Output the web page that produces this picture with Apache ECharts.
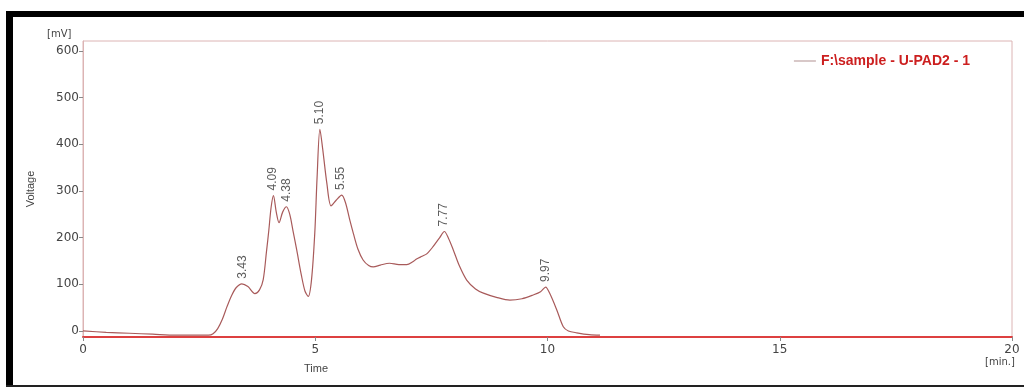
<!DOCTYPE html>
<html><head><meta charset="utf-8">
<script src="https://cdn.jsdelivr.net/npm/echarts@6/dist/echarts.min.js"></script>
<style>html,body{margin:0;padding:0;background:#fff}#c{width:1024px;height:388px}</style>
</head><body><div id="c"></div>
<script>
// time (min) and voltage (mV)
const times = [0,0.5,1.0,1.5,2.0,2.5,2.7,2.8,2.9,3.0,3.1,3.2,3.3,3.42,3.55,3.70,3.80,3.88,3.95,4.0,4.05,4.10,4.16,4.22,4.30,4.38,4.45,4.52,4.60,4.70,4.78,4.85,4.92,4.99,5.04,5.10,5.16,5.25,5.34,5.45,5.57,5.65,5.75,5.82,5.92,6.03,6.15,6.25,6.4,6.6,6.8,6.97,7.1,7.18,7.3,7.4,7.54,7.68,7.78,7.87,7.97,8.1,8.26,8.45,8.62,8.9,9.19,9.45,9.69,9.85,9.96,10.05,10.2,10.34,10.45,10.63,10.9,11.13];
const volts = [0,-3,-5,-7,-9,-9,-9,-6,5,25,52,76,93,101,95,80,88,110,170,215,265,290,255,232,255,266,250,215,174,120,85,74,110,210,330,432,390,316,268,280,291,275,235,209,175,152,140,137,141,145,142,142,148,154,160,165,181,200,213,198,174,140,109,90,81,72,66,69,77,84,94,80,45,9,0,-4,-8,-9];
const peakTimes = [3.43,4.09,4.38,5.10,5.55,7.77,9.97];
const peakVolts = [101,290,266,432,291,213,94];
const peakLabels = ['3.43','4.09','4.38','5.10','5.55','7.77','9.97'];
const yTicks = [0,100,200,300,400,500,600];
const xTicks = [0,5,10,15,20];
const seriesName = 'F:\\sample - U-PAD2 - 1';

const chart = echarts.init(document.getElementById('c'));
const font = 'DejaVu Sans';
chart.setOption({
  animation:false,
  backgroundColor:'#fff',
  grid:{left:83,top:41,right:12,bottom:51,show:true,borderColor:'#dcb4b4',borderWidth:1},
  legend:{
    right:49, top:49, itemWidth:22, itemHeight:1, icon:'rect', itemGap:6,
    itemStyle:{color:'#b09090'},
    textStyle:{color:'#cc1f1f',fontWeight:'bold',fontSize:14,fontFamily:'Liberation Sans'},
    data:[seriesName]
  },
  xAxis:{
    type:'value', min:0, max:20, interval:5,
    axisLine:{onZero:false,lineStyle:{color:'#dd4040',width:2}},
    axisTick:{show:true,length:4,lineStyle:{color:'#888'}},
    axisLabel:{color:'#444',fontSize:12,fontFamily:font,margin:7},
    splitLine:{show:false}
  },
  yAxis:{
    type:'value', min:-13, max:621,
    name:'Voltage', nameLocation:'middle', nameGap:47, nameRotate:90,
    nameTextStyle:{color:'#444',fontSize:11,fontFamily:'Liberation Sans'},
    axisLine:{show:true,lineStyle:{color:'#dcb4b4'}},
    axisTick:{show:true,length:4,customValues:yTicks,lineStyle:{color:'#888'}},
    axisLabel:{color:'#444',fontSize:12,fontFamily:font,margin:4,customValues:yTicks},
    splitLine:{show:false}
  },
  series:[{
    name:seriesName, type:'line', smooth:0.3, symbol:'none',
    lineStyle:{color:'#a85a5a',width:1.2},
    data:times.map((t,i)=>[t,volts[i]])
  },{
    type:'scatter', symbolSize:0, silent:true,
    data:peakTimes.map((t,i)=>({value:[t,peakVolts[i]],name:peakLabels[i]})),
    label:{show:true,position:'top',distance:5,rotate:90,align:'left',verticalAlign:'middle',
      formatter:p=>p.name,color:'#333',fontSize:12,fontFamily:'Liberation Sans'}
  }],
  graphic:[
    {type:'rect',shape:{x:6,y:11,width:1018,height:6},style:{fill:'#000'}},
    {type:'rect',shape:{x:6,y:11,width:7,height:376},style:{fill:'#000'}},
    {type:'rect',shape:{x:6,y:385,width:1018,height:2},style:{fill:'#222'}},
    {type:'text',x:47,y:29,style:{text:'[mV]',fill:'#444',fontSize:10,fontFamily:font}},
    {type:'text',x:316,y:363,style:{text:'Time',fill:'#444',fontSize:11,fontFamily:'Liberation Sans',align:'center'}},
    {type:'text',x:1000,y:357,style:{text:'[min.]',fill:'#444',fontSize:10,fontFamily:font,align:'center'}}
  ]
});
</script></body></html>
